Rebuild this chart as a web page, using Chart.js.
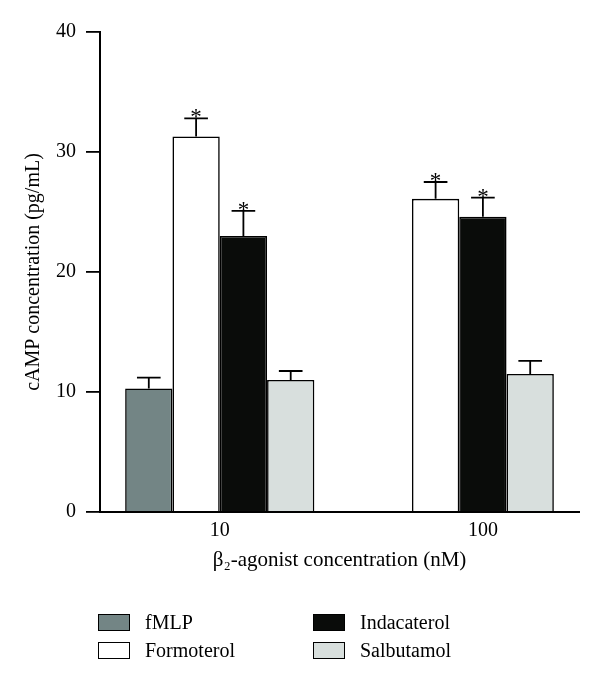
<!DOCTYPE html>
<html>
<head>
<meta charset="utf-8">
<script src="https://cdn.jsdelivr.net/npm/chart.js@4.4.0/dist/chart.umd.min.js"></script>
<style>
    html, body { margin: 0; padding: 0; background: #fff; }
    #wrap { position: relative; width: 600px; height: 688px; }
    #legend { position: absolute; left: 0; top: 0; width: 600px; height: 688px; pointer-events: none; }
    .lg-item { position: absolute; display: flex; align-items: center; font: 20px "Liberation Serif", serif; color: #000; }
    .lg-box { width: 30px; height: 15px; border: 1.5px solid #000; margin-right: 15px; }
</style>
</head>
<body>
<div id="wrap">
    <canvas id="camp" width="600" height="688"></canvas>
    <div id="legend"></div>
</div>
<script>
// DATA
const categories = ['10', '100'];
const seriesNames = ['fMLP', 'Formoterol', 'Indacaterol', 'Salbutamol'];
const fmlpValues = [10.3, null];
const formoterolValues = [31.3, 26.1];
const indacaterolValues = [23.0, 24.6];
const salbutamolValues = [11.0, 11.5];
const fmlpErr = [0.9, null];
const formoterolErr = [1.5, 1.4];
const indacaterolErr = [2.1, 1.6];
const salbutamolErr = [0.75, 1.1];
const fmlpSig = [false, false];
const formoterolSig = [true, true];
const indacaterolSig = [true, true];
const salbutamolSig = [false, false];
const yTicks = [0, 10, 20, 30, 40];

const seriesColors = ['#738585', '#ffffff', '#0a0c0a', '#d8dfdd'];
const FONT = '"Liberation Serif", serif';

// ERROR BARS, ASTERISKS, GROUP LABELS
const errorBarPlugin = {
    id: 'errorBars',
    afterDatasetsDraw(chart) {
        const ctx = chart.ctx;
        const y = chart.scales.y;
        ctx.save();
        ctx.strokeStyle = '#000';
        ctx.lineWidth = 1.8;
        chart.data.datasets.forEach((ds, i) => {
            const meta = chart.getDatasetMeta(i);
            meta.data.forEach((bar, j) => {
                const v = ds.data[j];
                if (v === null || v === undefined) return;
                const top = y.getPixelForValue(v + ds.err[j]);
                const half = bar.width / 4;
                ctx.beginPath();
                ctx.moveTo(bar.x, bar.y);
                ctx.lineTo(bar.x, top);
                ctx.moveTo(bar.x - half, top);
                ctx.lineTo(bar.x + half, top);
                ctx.stroke();
                if (ds.sig[j]) {
                    ctx.fillStyle = '#000';
                    ctx.font = '23px ' + FONT;
                    ctx.textAlign = 'center';
                    ctx.textBaseline = 'alphabetic';
                    ctx.fillText('*', bar.x, top + 6);
                }
            });
        });
        ctx.restore();
    },
    afterDraw(chart) {
        // category labels centred under the bars actually drawn
        const ctx = chart.ctx;
        const x = chart.scales.x;
        ctx.save();
        ctx.fillStyle = '#000';
        ctx.font = '20px ' + FONT;
        ctx.textAlign = 'center';
        ctx.textBaseline = 'top';
        categories.forEach((c, j) => {
            let lo = Infinity, hi = -Infinity;
            chart.data.datasets.forEach((ds, i) => {
                if (ds.data[j] === null) return;
                const bar = chart.getDatasetMeta(i).data[j];
                lo = Math.min(lo, bar.x - bar.width / 2);
                hi = Math.max(hi, bar.x + bar.width / 2);
            });
            ctx.fillText(c, (lo + hi) / 2, x.top + 9);
        });
        ctx.restore();
    }
};

const dataLists = [fmlpValues, formoterolValues, indacaterolValues, salbutamolValues];
const errLists = [fmlpErr, formoterolErr, indacaterolErr, salbutamolErr];
const sigLists = [fmlpSig, formoterolSig, indacaterolSig, salbutamolSig];

const chart = new Chart(document.getElementById('camp').getContext('2d'), {
    type: 'bar',
    data: {
        labels: categories,
        datasets: seriesNames.map((name, i) => ({
            label: name,
            data: dataLists[i],
            err: errLists[i],
            sig: sigLists[i],
            backgroundColor: seriesColors[i],
            borderColor: '#000',
            borderWidth: 1.6,
            categoryPercentage: 0.79,
            barPercentage: 1
        }))
    },
    options: {
        responsive: false,
        animation: false,
        events: [],
        layout: { padding: { top: 32, right: 21, bottom: 112, left: 0 } },
        plugins: { legend: { display: false }, tooltip: { enabled: false } },
        scales: {
            x: {
                grid: { display: false, drawTicks: false },
                border: { display: true, color: '#000', width: 2 },
                ticks: { display: false },
                afterFit(scale) { scale.height = 64; },
                title: {
                    display: true,
                    text: 'β₂-agonist concentration (nM)',
                    color: '#000',
                    font: { family: FONT, size: 21 },
                    padding: { top: 0, bottom: 3 }
                }
            },
            y: {
                min: 0,
                max: 40,
                afterBuildTicks(scale) { scale.ticks = yTicks.map(v => ({ value: v })); },
                afterFit(scale) { scale.width = 100; },
                grid: { drawOnChartArea: false, drawTicks: true, tickLength: 14, color: '#000', lineWidth: 1.8 },
                border: { display: true, color: '#000', width: 2 },
                ticks: { color: '#000', font: { family: FONT, size: 20 }, padding: 10 },
                title: {
                    display: true,
                    text: 'cAMP concentration (pg/mL)',
                    color: '#000',
                    font: { family: FONT, size: 20 },
                    padding: { top: 22, bottom: 0 }
                }
            }
        }
    },
    plugins: [errorBarPlugin]
});

// LEGEND (two columns, filled top to bottom)
const legendEl = document.getElementById('legend');
seriesNames.forEach((name, i) => {
    const item = document.createElement('div');
    item.className = 'lg-item';
    item.style.left = (98 + Math.floor(i / 2) * 215) + 'px';
    item.style.top = (611 + (i % 2) * 28) + 'px';
    item.innerHTML = '<span class="lg-box" style="background:' + seriesColors[i] + '"></span>' + name;
    legendEl.appendChild(item);
});
</script>
</body>
</html>
